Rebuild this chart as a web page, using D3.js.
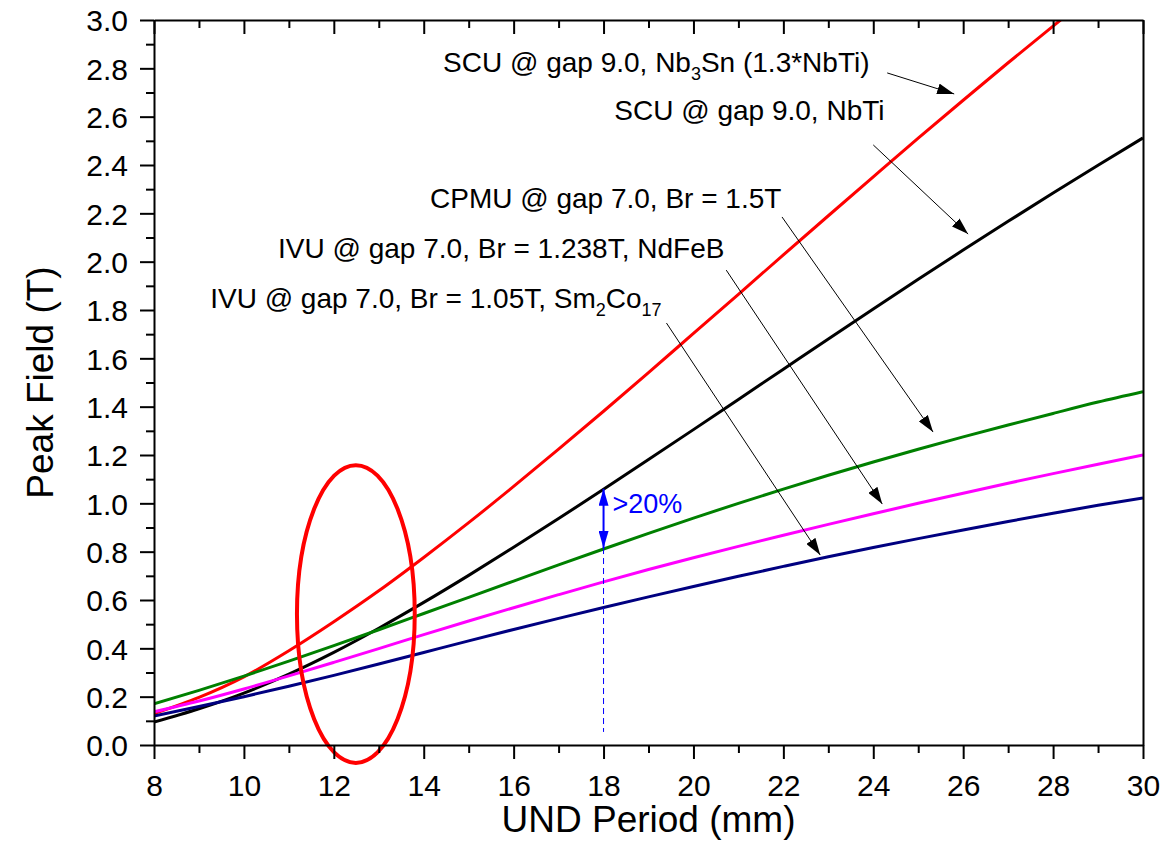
<!DOCTYPE html>
<html><head><meta charset="utf-8">
<script src="https://cdn.jsdelivr.net/npm/d3@7"></script>
<style>
body{margin:0;background:#fff}
svg{display:block}
text{font-family:"Liberation Sans",Arial,sans-serif;fill:#000}
</style>
</head><body>
<svg id="c" width="1173" height="851"></svg>
<script>
// ---------- data ----------
const periods  = [8,9,10,11,12,13,14,15,16,17,18,19,20,21,22,23,24,25,26,27,28,29,30];
const scuNb3Sn = [0.130,0.197,0.282,0.390,0.510,0.638,0.776,0.920,1.070,1.224,1.381,1.541,1.703,1.865,2.028,2.190,2.351,2.511,2.668,2.823,2.975,3.125,3.272];
const scuNbTi  = [0.095,0.150,0.215,0.293,0.383,0.483,0.590,0.702,0.818,0.937,1.058,1.181,1.305,1.430,1.555,1.680,1.804,1.927,2.048,2.167,2.284,2.399,2.512];
const cpmu     = [0.170,0.226,0.285,0.347,0.411,0.477,0.544,0.611,0.678,0.745,0.811,0.876,0.939,1.000,1.059,1.116,1.171,1.224,1.275,1.324,1.372,1.419,1.462];
const ivuNdFeB = [0.137,0.182,0.232,0.286,0.342,0.399,0.457,0.513,0.568,0.622,0.675,0.726,0.775,0.822,0.868,0.913,0.957,1.000,1.042,1.083,1.123,1.162,1.200];
const ivuSmCo  = [0.120,0.159,0.200,0.243,0.288,0.335,0.383,0.431,0.478,0.524,0.569,0.613,0.656,0.698,0.739,0.779,0.817,0.854,0.890,0.925,0.959,0.992,1.022];

const seriesNames  = ["SCU Nb3Sn","SCU NbTi","CPMU","IVU NdFeB","IVU Sm2Co17"];
const seriesValues = [scuNb3Sn, scuNbTi, cpmu, ivuNdFeB, ivuSmCo];
const seriesColors = ["#ff0000","#000000","#008000","#ff00ff","#000080"];

const xTickValues  = [8,10,12,14,16,18,20,22,24,26,28,30];
const xMinorValues = [9,11,13,15,17,19,21,23,25,27,29];
const yTickValues  = [0,0.2,0.4,0.6,0.8,1.0,1.2,1.4,1.6,1.8,2.0,2.2,2.4,2.6,2.8,3.0];
const yMinorValues = [0.1,0.3,0.5,0.7,0.9,1.1,1.3,1.5,1.7,1.9,2.1,2.3,2.5,2.7,2.9];

// annotation labels: parts [text, isSub]; position (x mm, y T) at text baseline start
const labelParts = [
  [["SCU @ gap 9.0, Nb",0],["3",1],["Sn (1.3*NbTi)",0]],
  [["SCU @ gap 9.0, NbTi",0]],
  [["CPMU @ gap 7.0, Br = 1.5T",0]],
  [["IVU @ gap 7.0, Br = 1.238T, NdFeB",0]],
  [["IVU @ gap 7.0, Br = 1.05T, Sm",0],["2",1],["Co",0],["17",1]]
];
const labelX = [14.43, 18.24, 14.14, 10.76, 9.25];
const labelY = [2.785, 2.586, 2.221, 2.014, 1.808];
// arrows: start (x,y) -> tip (x,y) in data units
const arrowX0 = [24.31, 24.00, 21.97, 20.73, 19.40];
const arrowY0 = [2.781, 2.483, 2.185, 1.965, 1.746];
const arrowX1 = [25.80, 26.11, 25.33, 24.20, 22.82];
const arrowY1 = [2.694, 2.114, 1.295, 0.997, 0.786];

const gapPeriod = 18, gapTop = 1.06, gapBottom = 0.815, gapDashEnd = 0.054;
const gapText = ">20%", gapTextX = 18.2, gapTextY = 0.96;
const ellipseCx = 12.49, ellipseCy = 0.542, ellipseRx = 1.31, ellipseRy = 0.616;

// ---------- chart ----------
const svg = d3.select("#c");
const x = d3.scaleLinear().domain([8,30]).range([154,1143]);
const y = d3.scaleLinear().domain([0,3]).range([745,20]);
const X0 = x.range()[0], X1 = x.range()[1], Y0 = y.range()[0], Y1 = y.range()[1];

const defs = svg.append("defs");
defs.append("clipPath").attr("id","plot").append("rect")
  .attr("x",X0).attr("y",Y1).attr("width",X1-X0).attr("height",Y0-Y1);
defs.append("marker").attr("id","ah").attr("viewBox","0 0 17 11")
  .attr("refX",17).attr("refY",5.5).attr("markerWidth",17).attr("markerHeight",11)
  .attr("markerUnits","userSpaceOnUse").attr("orient","auto")
  .append("path").attr("d","M0,0L17,5.5L0,11Z").attr("fill","#000");
defs.append("marker").attr("id","bh").attr("viewBox","0 0 17 10")
  .attr("refX",17).attr("refY",5).attr("markerWidth",17).attr("markerHeight",10)
  .attr("markerUnits","userSpaceOnUse").attr("orient","auto-start-reverse")
  .append("path").attr("d","M0,0L17,5L0,10Z").attr("fill","#0000ff");

// curves
const line = d3.line().x((d,i)=>x(periods[i])).y(d=>y(d)).curve(d3.curveMonotoneX);
const gLines = svg.append("g").attr("clip-path","url(#plot)");
seriesValues.forEach((vals,k)=>{
  gLines.append("path").datum(vals).attr("d",line)
    .attr("fill","none").attr("stroke",seriesColors[k]).attr("stroke-width",3)
    .attr("stroke-linejoin","round");
});

// dashed vertical + blue double arrow
svg.append("line").attr("x1",x(gapPeriod)).attr("x2",x(gapPeriod))
  .attr("y1",y(gapBottom)).attr("y2",y(gapDashEnd))
  .attr("stroke","#0000ff").attr("stroke-width",1).attr("stroke-dasharray","6,4");
svg.append("line").attr("x1",x(gapPeriod)).attr("x2",x(gapPeriod))
  .attr("y1",y(gapTop)).attr("y2",y(gapBottom))
  .attr("stroke","#0000ff").attr("stroke-width",2)
  .attr("marker-start","url(#bh)").attr("marker-end","url(#bh)");
svg.append("text").attr("x",x(gapTextX)).attr("y",y(gapTextY))
  .attr("font-size",27).style("fill","#0000ff").text(gapText);

// ellipse
svg.append("ellipse").attr("cx",x(ellipseCx)).attr("cy",y(ellipseCy))
  .attr("rx",x(ellipseCx+ellipseRx)-x(ellipseCx)).attr("ry",y(ellipseCy-ellipseRy)-y(ellipseCy))
  .attr("fill","none").attr("stroke","#ff0000").attr("stroke-width",4);

// annotation arrows
arrowX0.forEach((_,i)=>{
  svg.append("line").attr("x1",x(arrowX0[i])).attr("y1",y(arrowY0[i]))
    .attr("x2",x(arrowX1[i])).attr("y2",y(arrowY1[i]))
    .attr("stroke","#000").attr("stroke-width",1).attr("marker-end","url(#ah)");
});

// labels
labelParts.forEach((parts,i)=>{
  const t = svg.append("text").attr("x",x(labelX[i])).attr("y",y(labelY[i])).attr("font-size",28);
  let sub = false;
  parts.forEach(([s,isSub])=>{
    const ts = t.append("tspan").text(s);
    if(isSub && !sub){ ts.attr("dy",8).attr("font-size",18); sub=true; }
    else if(isSub && sub){ ts.attr("font-size",18); }
    else if(!isSub && sub){ ts.attr("dy",-8); sub=false; }
  });
});

// axes
const axStyle = g=>{
  g.selectAll("path.domain").attr("stroke","#000").attr("stroke-width",2);
  g.selectAll(".tick line").attr("stroke","#000").attr("stroke-width",2);
  g.selectAll("text").attr("font-family","'Liberation Sans',Arial,sans-serif").attr("fill","#000");
};
// bottom
svg.append("g").attr("transform",`translate(0,${Y0})`)
  .call(d3.axisBottom(x).tickValues(xTickValues).tickSize(14).tickPadding(0).tickSizeOuter(0).tickFormat(d3.format("d")))
  .call(axStyle)
  .call(g=>g.selectAll("text").attr("font-size",30).attr("dy",null).attr("y",51));
svg.append("g").attr("transform",`translate(0,${Y0})`)
  .call(d3.axisBottom(x).tickValues(xMinorValues).tickSize(8).tickFormat("").tickSizeOuter(0))
  .call(axStyle).call(g=>g.select(".domain").remove());
// top (ticks inward)
svg.append("g").attr("transform",`translate(0,${Y1})`)
  .call(d3.axisBottom(x).tickValues(xTickValues).tickSize(14).tickFormat("").tickSizeOuter(0))
  .call(axStyle);
svg.append("g").attr("transform",`translate(0,${Y1})`)
  .call(d3.axisBottom(x).tickValues(xMinorValues).tickSize(8).tickFormat("").tickSizeOuter(0))
  .call(axStyle).call(g=>g.select(".domain").remove());
// left
svg.append("g").attr("transform",`translate(${X0},0)`)
  .call(d3.axisLeft(y).tickValues(yTickValues).tickSize(14).tickPadding(12).tickSizeOuter(0).tickFormat(d3.format(".1f")))
  .call(axStyle)
  .call(g=>g.selectAll("text").attr("font-size",30).attr("dy","0.36em"));
svg.append("g").attr("transform",`translate(${X0},0)`)
  .call(d3.axisLeft(y).tickValues(yMinorValues).tickSize(8).tickFormat("").tickSizeOuter(0))
  .call(axStyle).call(g=>g.select(".domain").remove());
// right
svg.append("g").attr("transform",`translate(${X1},0)`)
  .call(d3.axisRight(y).tickValues([]).tickSizeOuter(0))
  .call(axStyle);

// titles
svg.append("text").attr("x",(X0+X1)/2).attr("y",832).attr("text-anchor","middle")
  .attr("font-size",37).text("UND Period (mm)");
svg.append("text").attr("transform",`translate(53,${(Y0+Y1)/2}) rotate(-90)`)
  .attr("text-anchor","middle").attr("font-size",37).text("Peak Field (T)");
</script>
</body></html>
